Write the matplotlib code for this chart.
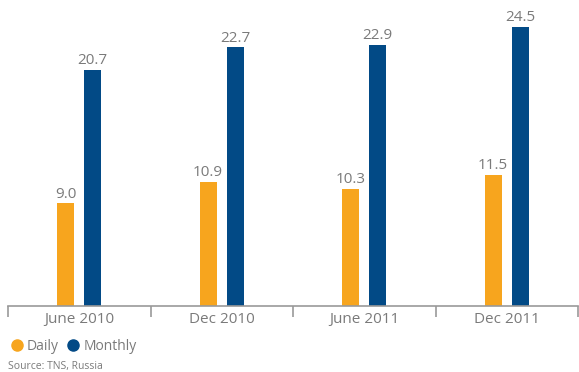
import numpy as np
import matplotlib.pyplot as plt
from matplotlib.lines import Line2D

periods = ['June 2010', 'Dec 2010', 'June 2011', 'Dec 2011']
daily = [9.0, 10.9, 10.3, 11.5]
monthly = [20.7, 22.7, 22.9, 24.5]

orange = '#F7A51E'
blue = '#024A86'
grey = '#7A7A7A'

plt.rcParams['font.family'] = ['Open Sans', 'DejaVu Sans']

fig = plt.figure(figsize=(5.79, 3.72), dpi=100)
ax = fig.add_axes([8/579, 1 - 306/372, 570/579, 306/372])

x = np.arange(len(periods))
w = 0.12
off = 0.095
b1 = ax.bar(x - off, daily, w, color=orange)
b2 = ax.bar(x + off, monthly, w, color=blue)
for bars, vals in ((b1, daily), (b2, monthly)):
    for r, v in zip(bars, vals):
        ax.text(r.get_x() + r.get_width() / 2, v + 0.15, f'{v:.1f}',
                ha='center', va='bottom', fontsize=11, color=grey)

ax.set_xlim(-0.5, len(periods) - 0.5)
ax.set_ylim(0, 26.85)
for s in ['top', 'right', 'left']:
    ax.spines[s].set_visible(False)
ax.spines['bottom'].set_color('#999999')
ax.spines['bottom'].set_linewidth(1.2)
ax.set_yticks([])
ax.set_xticks(x)
ax.set_xticklabels(periods, fontsize=11, color=grey)
ax.tick_params(axis='x', which='major', length=0, pad=4)
ax.set_xticks(np.arange(len(periods) + 1) - 0.5, minor=True)
ax.tick_params(axis='x', which='minor', length=8, width=1.2, color='#999999')

handles = [Line2D([], [], marker='o', ls='none', color=orange, markersize=8),
           Line2D([], [], marker='o', ls='none', color=blue, markersize=8)]
fig.legend(handles, ['Daily', 'Monthly'], loc='center left',
           bbox_to_anchor=(-0.005, 1 - 346/372), ncol=2, frameon=False,
           handletextpad=0.25, columnspacing=0.5, fontsize=10,
           labelcolor=grey, handlelength=1.0)
fig.text(8/579, 1 - 366/372, 'Source: TNS, Russia', fontsize=7.5,
         color=grey, va='center')

fig.savefig('out.png', dpi=100)
